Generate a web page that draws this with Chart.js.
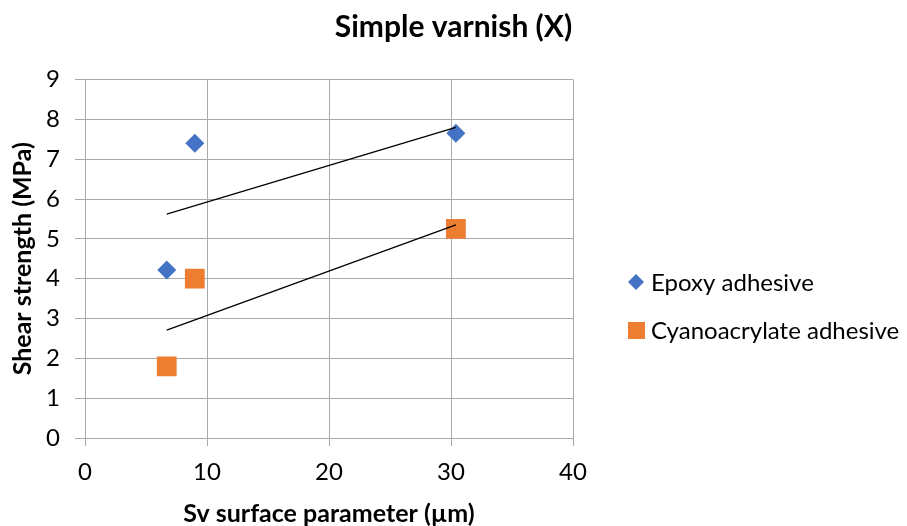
<!DOCTYPE html>
<html>
<head>
<meta charset="utf-8">
<script src="https://cdn.jsdelivr.net/npm/chart.js@4/dist/chart.umd.min.js"></script>
<style>
    html, body { margin: 0; padding: 0; background: #fff; }
    #wrap { width: 907px; height: 526px; }
</style>
</head>
<body>
<div id="wrap"><canvas id="chart" width="907" height="526"></canvas></div>
<script>
// values
const svValues = [6.7, 9.0, 30.4];
const epoxyValues = [4.22, 7.4, 7.65];
const cyanoValues = [1.8, 4.0, 5.25];
// linear trend lines (end points)
const trendX = [6.7, 30.4];
const epoxyTrend = [5.62, 7.80];
const cyanoTrend = [2.71, 5.35];
const seriesNames = ['Epoxy adhesive', 'Cyanoacrylate adhesive'];

const blue = '#4472C4';
const orange = '#ED7D31';
const gridColor = '#a9a9a9';
const fontName = 'Lato';

function toPoints(xs, ys) {
    let pts = [];
    for (let i = 0; i < xs.length; i ++) {
        pts.push({x: xs[i], y: ys[i]});
    }
    return pts;
}

// legend drawn at the right, like the Excel one
const sideLegend = {
    id: 'sideLegend',
    afterDraw(chart) {
        const ctx = chart.ctx;
        const items = [
            {text: seriesNames[0], color: blue, shape: 'diamond', y: 282},
            {text: seriesNames[1], color: orange, shape: 'square', y: 330}
        ];
        ctx.save();
        ctx.font = '24px ' + fontName;
        ctx.textBaseline = 'middle';
        for (let item of items) {
            const cx = 636;
            ctx.fillStyle = item.color;
            ctx.beginPath();
            if (item.shape == 'diamond') {
                ctx.moveTo(cx, item.y - 8);
                ctx.lineTo(cx + 8, item.y);
                ctx.lineTo(cx, item.y + 8);
                ctx.lineTo(cx - 8, item.y);
                ctx.closePath();
            } else {
                ctx.rect(cx - 8, item.y - 8, 17, 17);
            }
            ctx.fill();
            ctx.fillStyle = '#000';
            ctx.fillText(item.text, 651, item.y + 1);
        }
        ctx.restore();
    }
};

let chart = document.getElementById('chart').getContext('2d');
let scatterChart = new Chart(chart, {
    type: 'scatter',
    data: {
        datasets: [{
            label: 'epoxy trend',
            data: toPoints(trendX, epoxyTrend),
            showLine: true,
            borderColor: '#000',
            borderWidth: 1.3,
            pointRadius: 0,
            order: 0
        }, {
            label: 'cyano trend',
            data: toPoints(trendX, cyanoTrend),
            showLine: true,
            borderColor: '#000',
            borderWidth: 1.3,
            pointRadius: 0,
            order: 0
        }, {
            label: seriesNames[0],
            data: toPoints(svValues, epoxyValues),
            pointStyle: 'rectRot',
            radius: 9.5,
            borderWidth: 0,
            backgroundColor: blue,
            pointBackgroundColor: blue,
            order: 1
        }, {
            label: seriesNames[1],
            data: toPoints(svValues, cyanoValues),
            pointStyle: 'rect',
            radius: 14,
            borderWidth: 0,
            backgroundColor: orange,
            pointBackgroundColor: orange,
            order: 1
        }]
    },
    options: {
        responsive: false,
        animation: false,
        layout: {
            autoPadding: false,
            padding: {left: 0, top: 0, right: 0, bottom: 0}
        },
        plugins: {
            legend: {display: false},
            tooltip: {enabled: false},
            title: {
                display: true,
                text: 'Simple varnish (X)',
                color: '#000',
                font: {family: fontName, size: 30, weight: 'bold', lineHeight: 1},
                padding: {top: 12, bottom: 37.5}
            }
        },
        scales: {
            x: {
                type: 'linear',
                min: 0,
                max: 40,
                afterFit: (scale) => { scale.height = 88; },
                ticks: {
                    stepSize: 10,
                    color: '#000',
                    padding: 14,
                    font: {family: fontName, size: 24, lineHeight: 1}
                },
                grid: {color: gridColor, tickLength: 8},
                border: {color: gridColor},
                title: {
                    display: true,
                    text: 'Sv surface parameter (µm)',
                    color: '#000',
                    font: {family: fontName, size: 25, weight: 'bold', lineHeight: 1},
                    padding: {top: 17, bottom: 0}
                }
            },
            y: {
                min: 0,
                max: 9,
                afterFit: (scale) => { scale.width = 85; },
                ticks: {
                    stepSize: 1,
                    color: '#000',
                    padding: 15,
                    font: {family: fontName, size: 24, lineHeight: 1}
                },
                grid: {color: gridColor, tickLength: 10},
                border: {color: gridColor},
                title: {
                    display: true,
                    text: 'Shear strength (MPa)',
                    color: '#000',
                    font: {family: fontName, size: 25, weight: 'bold', lineHeight: 1},
                    padding: {top: 10.5, bottom: 0}
                }
            },
            // empty axis that keeps room for the legend
            side: {
                type: 'linear',
                position: 'right',
                display: true,
                ticks: {display: false},
                grid: {display: false},
                border: {display: false},
                afterFit: (scale) => { scale.width = 334; }
            }
        }
    },
    plugins: [sideLegend]
});
</script>
</body>
</html>
